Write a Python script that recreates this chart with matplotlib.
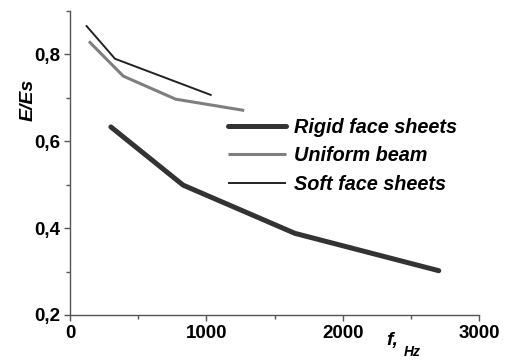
import matplotlib
matplotlib.use("Agg")
import matplotlib.pyplot as plt
from matplotlib.ticker import MultipleLocator, FuncFormatter

# Data
rigid_f = [300, 830, 1650, 2705]
rigid_e = [0.633, 0.499, 0.388, 0.302]
uniform_f = [139, 391, 775, 1278]
uniform_e = [0.830, 0.750, 0.697, 0.671]
soft_f = [117, 330, 1039]
soft_e = [0.867, 0.790, 0.706]
labels = ["Rigid face sheets", "Uniform beam", "Soft face sheets"]

plt.rcParams['font.family'] = ['Liberation Sans', 'DejaVu Sans']

fig = plt.figure(figsize=(5.06, 3.60), dpi=100)
ax = fig.add_axes([70/506, 1-315/360, 409/506, 304/360])

ax.plot(rigid_f, rigid_e, color='#333333', lw=3.6, solid_capstyle='round', label=labels[0])
ax.plot(uniform_f, uniform_e, color='#7f7f7f', lw=2.2, solid_capstyle='butt', label=labels[1])
ax.plot(soft_f, soft_e, color='#222222', lw=1.4, solid_capstyle='butt', label=labels[2])

ax.set_xlim(0, 3000)
ax.set_ylim(0.2, 0.9)
ax.xaxis.set_major_locator(MultipleLocator(1000))
ax.xaxis.set_minor_locator(MultipleLocator(500))
ax.yaxis.set_major_locator(MultipleLocator(0.2))
ax.yaxis.set_minor_locator(MultipleLocator(0.1))
ax.yaxis.set_major_formatter(FuncFormatter(lambda v, p: f"{v:.1f}".replace('.', ',')))

for s in ['top', 'right']:
    ax.spines[s].set_visible(False)
for s in ['left', 'bottom']:
    ax.spines[s].set_color('#555555')
    ax.spines[s].set_linewidth(1.0)

ax.tick_params(axis='both', which='major', direction='out', length=4, width=1, color='#555555',
               labelsize=13.5, pad=3)
ax.tick_params(axis='both', which='minor', direction='out', length=3, width=1, color='#555555')
for lab in ax.get_xticklabels() + ax.get_yticklabels():
    lab.set_fontweight('bold')

ax.set_ylabel("E/Es", fontsize=14, fontweight='bold', fontstyle='italic', va='center')
ax.yaxis.set_label_coords(-0.103, 0.707)

ax.text(0.774, -0.085, "f,", transform=ax.transAxes, fontsize=14, fontweight='bold',
        fontstyle='italic', ha='left', va='center')
ax.text(0.8166, -0.122, "Hz", transform=ax.transAxes, fontsize=10, fontweight='bold',
        fontstyle='italic', ha='left', va='center')

leg = ax.legend(loc='upper left', bbox_to_anchor=(0.368, 0.675), frameon=False,
                prop={'size': 14.3, 'weight': 'bold', 'style': 'italic'},
                handlelength=2.9, handletextpad=0.4, labelspacing=0.48, borderaxespad=0)

fig.savefig("out.png", dpi=100)
